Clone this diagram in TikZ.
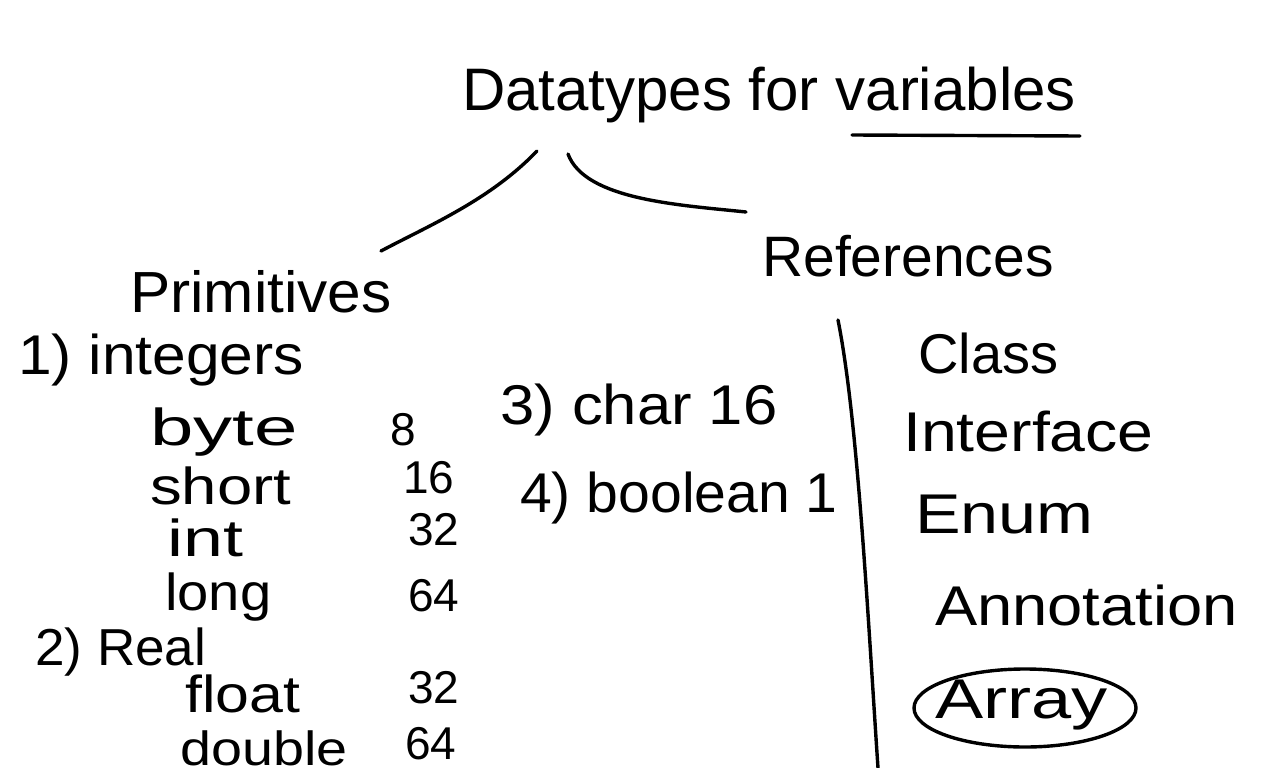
\documentclass[tikz,border=0pt]{standalone}
\usepackage{fontspec}
\setmainfont{Liberation Sans}
\usetikzlibrary{shapes.geometric}
\newcommand{\fs}[1]{\fontsize{#1}{#1}\selectfont}
\newcommand{\sx}[2]{\scalebox{#1}[1]{#2}}
\begin{document}
\begin{tikzpicture}[x=1pt,y=-1pt,
  ink/.style={line width=3.4pt,line cap=round,line join=round,black},
  txt/.style={inner sep=0pt,anchor=west},
  title/.style={txt,font=\fs{60}},
  item/.style={txt,font=\fs{52}},
  num/.style={txt,font=\fs{46}},
  ritem/.style={txt,font=\fs{56}}]
\useasboundingbox[fill=white] (0,0) rectangle (1280,768);
% title
\node[title] (title) at (462,95) {Datatypes for variables};
\coordinate (ul1) at (852,135);
\coordinate (ul2) at (1080,136);
\draw[ink] (ul1) -- (ul2);
% branches
\coordinate (bl1) at (537,151);
\coordinate (bl2) at (381,251);
\coordinate (br1) at (568,154);
\coordinate (br2) at (746,212);
\draw[ink] (bl1) .. controls (490,200) and (430,225) .. (bl2);
\draw[ink] (br1) .. controls (585,200) and (680,205) .. (br2);
% headings
\node[txt,font=\fs{58}] (prim) at (130,292) {\sx{1.04}{Primitives}};
\node[txt,font=\fs{57}] (refs) at (762,256) {References};
% primitives list
\node[txt,font=\fs{56}] (integers) at (18,360) {\sx{1.08}{1) integers}};
\node[item] (byte) at (150,432) {\sx{1.5}{byte}};
\node[num] (b8) at (390,430) {8};
\node[item] (short) at (150,486) {\sx{1.22}{short}};
\node[num] (s16) at (403,478) {16};
\node[item] (int) at (167,538) {\sx{1.38}{int}};
\node[num] (i32) at (408,530) {32};
\node[item] (long) at (165,597) {\sx{1.08}{long}};
\node[num] (l64) at (408,596) {64};
\node[txt,font=\fs{52}] (real) at (35,652) {\sx{1.02}{2) Real}};
\node[item] (float) at (185,694) {\sx{1.17}{float}};
\node[num] (f32) at (408,688) {32};
\node[txt,font=\fs{48}] (double) at (180,748) {\sx{1.16}{double}};
\node[num] (d64) at (405,744) {64};
\node[txt,font=\fs{56}] (char) at (500,410) {\sx{1.1}{3) char 16}};
\node[txt,font=\fs{56}] (bool) at (520,498) {\sx{1.02}{4) boolean 1}};
% divider
\coordinate (v1) at (838,320);
\coordinate (v2) at (878,768);
\draw[ink] (v1) .. controls (858,420) and (868,620) .. (v2);
% references list
\node[ritem] (class) at (918,353) {Class};
\node[ritem] (iface) at (903,432) {\sx{1.15}{Interface}};
\node[ritem] (enum) at (915,515) {\sx{1.22}{Enum}};
\node[ritem] (annot) at (935,605) {\sx{1.13}{Annotation}};
\node[ritem] (array) at (935,705) {\sx{1.29}{Array}};
\node[ink,draw,ellipse,minimum width=222pt,minimum height=78pt] (circ) at (1025,708) {};
\end{tikzpicture}
\end{document}
